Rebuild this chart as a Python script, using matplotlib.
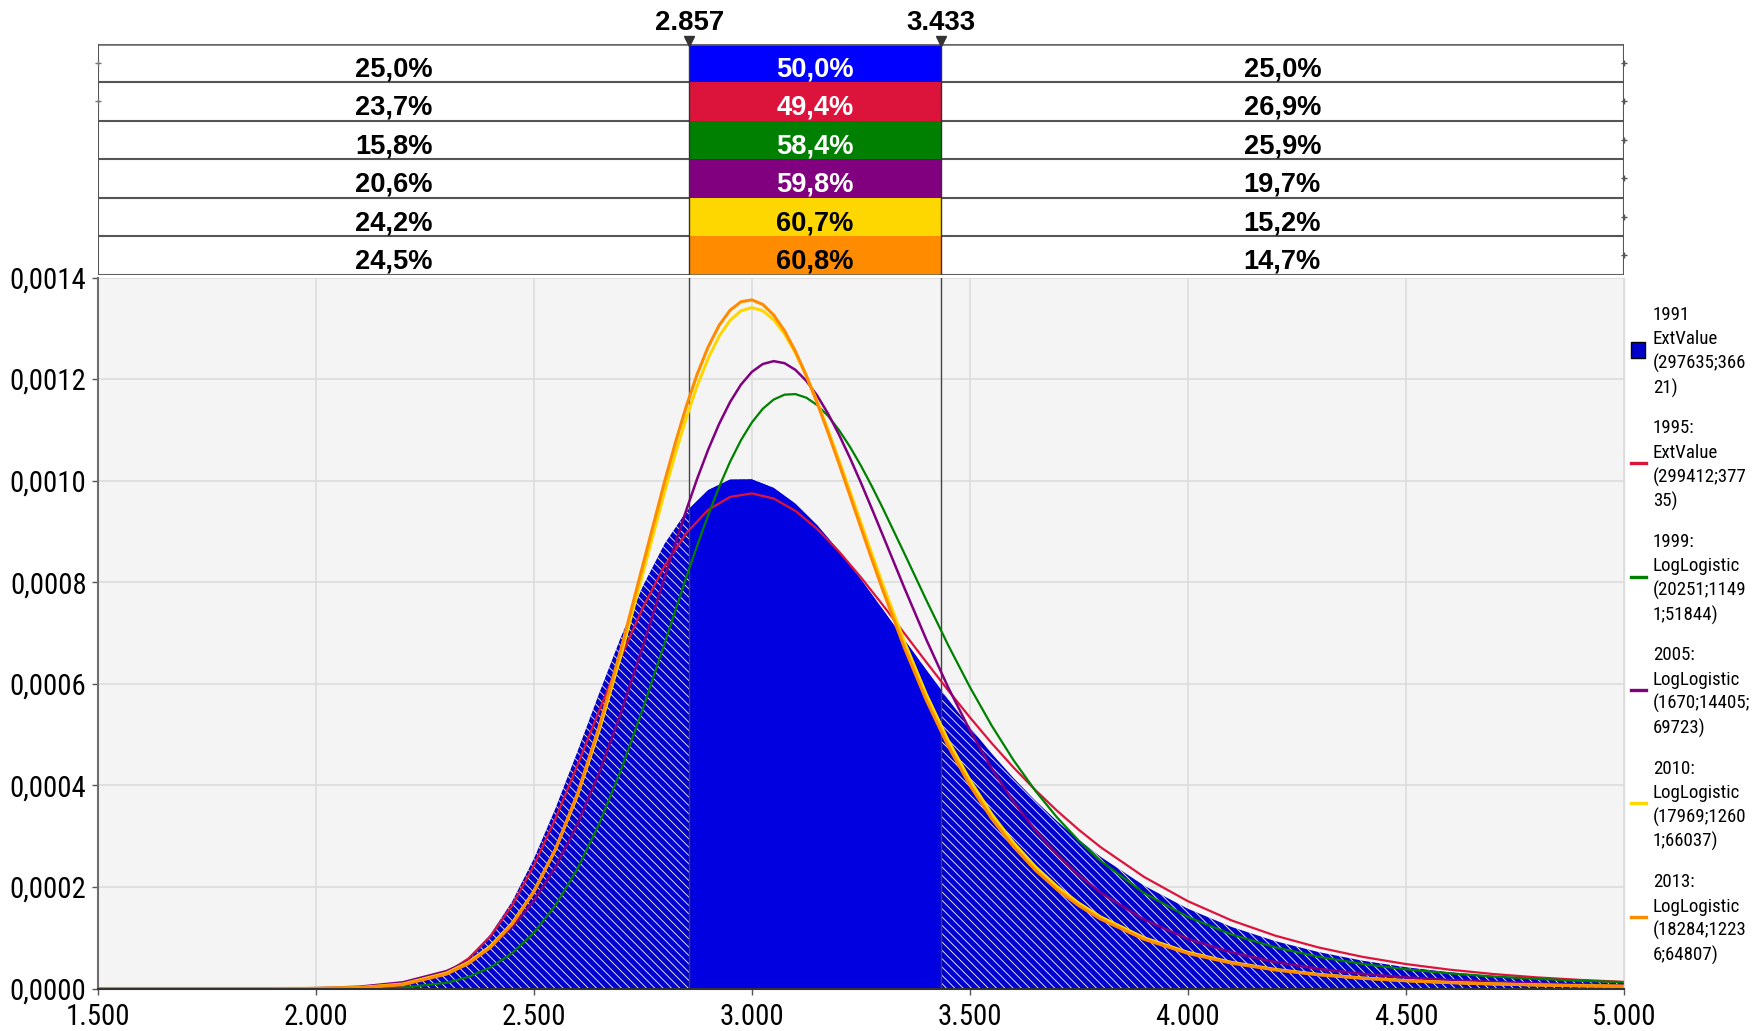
import matplotlib
matplotlib.use("Agg")
import matplotlib.pyplot as plt
from matplotlib import font_manager
from matplotlib.font_manager import FontProperties
from matplotlib.textpath import TextPath
from matplotlib.patches import Rectangle
from matplotlib.lines import Line2D

# ---------------- data ----------------
X = [1500, 1600, 1700, 1800, 1900, 2000, 2100, 2200, 2300, 2350, 2400, 2450, 2500, 2550,
     2600, 2650, 2700, 2750, 2800, 2850, 2900, 2950, 3000, 3050, 3100, 3150, 3200, 3250,
     3300, 3350, 3400, 3450, 3500, 3550, 3600, 3650, 3700, 3750, 3800, 3900, 4000, 4100,
     4200, 4300, 4400, 4500, 4600, 4700, 4800, 4900, 5000]

X_LL = [1500, 1600, 1700, 1800, 1900, 2000, 2100, 2200, 2300, 2350, 2400, 2450, 2500, 2550,
        2600, 2650, 2700, 2750, 2800, 2825, 2850, 2875, 2900, 2925, 2950, 2975, 3000, 3025,
        3050, 3075, 3100, 3125, 3150, 3175, 3200, 3225, 3250, 3275, 3300, 3350, 3400, 3450,
        3500, 3550, 3600, 3650, 3700, 3750, 3800, 3900, 4000, 4100, 4200, 4300, 4400, 4500,
        4600, 4700, 4800, 4900, 5000]

# 1991 ExtValue (filled) and 1995 ExtValue, on X
Y1991 = [0, 0, 0, 0, 0, 0.00000002, 0.00000053, 0.0000055, 0.0000306, 0.0000599, 0.0001058,
         0.0001707, 0.000255, 0.0003554, 0.0004664, 0.0005814, 0.0006924, 0.0007922, 0.0008759,
         0.0009394, 0.0009814, 0.001002, 0.0010025, 0.0009857, 0.0009545, 0.0009121, 0.0008615,
         0.0008055, 0.0007465, 0.0006865, 0.0006271, 0.0005694, 0.0005144, 0.0004627, 0.0004146,
         0.0003701, 0.0003295, 0.0002926, 0.0002592, 0.0002023, 0.000157, 0.0001212, 0.0000933,
         0.0000716, 0.0000548, 0.0000419, 0.000032, 0.0000245, 0.0000187, 0.0000142, 0.0000108]

Y1995 = [0, 0, 0, 0, 0, 0.00000003, 0.00000064, 0.000006, 0.0000309, 0.000059, 0.0001023,
         0.0001632, 0.0002417, 0.0003352, 0.0004391, 0.0005474, 0.0006529, 0.0007496, 0.0008323,
         0.0008971, 0.0009425, 0.0009679, 0.0009749, 0.0009648, 0.0009405, 0.0009047, 0.0008603,
         0.0008097, 0.0007554, 0.0006991, 0.0006427, 0.0005873, 0.0005339, 0.000483, 0.0004353,
         0.0003909, 0.0003499, 0.0003124, 0.0002782, 0.0002194, 0.0001719, 0.0001341, 0.0001041,
         0.0000807, 0.0000624, 0.0000481, 0.0000371, 0.0000285, 0.0000219, 0.0000169, 0.000013]

# LogLogistic series, on X_LL
Y1999 = [0, 0, 0, 0, 0, 0, 0.00000005, 0.0000017, 0.0000113, 0.0000228, 0.0000413,
         0.0000694, 0.0001096, 0.0001643, 0.0002356, 0.0003245, 0.0004303, 0.0005506, 0.0006798,
         0.0007455, 0.0008104, 0.0008731, 0.0009326, 0.0009877, 0.001037, 0.0010795, 0.0011145,
         0.0011414, 0.0011596, 0.0011693, 0.0011704, 0.0011633, 0.0011487, 0.0011272, 0.0010995,
         0.0010667, 0.0010297, 0.0009892, 0.0009463, 0.0008563, 0.000765, 0.0006765, 0.0005936,
         0.0005177, 0.0004497, 0.0003894, 0.0003367, 0.0002908, 0.0002511, 0.0001877, 0.0001409,
         0.0001065, 0.0000812, 0.0000624, 0.0000484, 0.0000378, 0.0000298, 0.0000237, 0.000019,
         0.0000153, 0.0000124]

Y2005 = [0, 0, 0, 0, 0, 0.0000007, 0.0000035, 0.0000123, 0.0000344, 0.0000541, 0.0000821,
         0.0001207, 0.0001724, 0.0002394, 0.0003234, 0.0004251, 0.0005431, 0.0006737, 0.00081,
         0.0008774, 0.0009428, 0.0010046, 0.0010613, 0.0011117, 0.0011546, 0.001189, 0.0012141,
         0.0012296, 0.0012353, 0.0012313, 0.0012181, 0.0011965, 0.0011673, 0.0011316, 0.0010904,
         0.0010448, 0.0009962, 0.0009452, 0.0008931, 0.0007884, 0.0006873, 0.0005933, 0.0005085,
         0.0004333, 0.0003679, 0.0003117, 0.0002637, 0.000223, 0.0001886, 0.0001354, 0.0000977,
         0.0000711, 0.0000522, 0.0000387, 0.0000289, 0.0000218, 0.0000166, 0.0000128, 0.0000099,
         0.0000077, 0.000006]

Y2010 = [0, 0, 0, 0, 0, 0.0000002, 0.0000018, 0.0000088, 0.0000304, 0.0000515, 0.0000831,
         0.0001284, 0.0001911, 0.0002743, 0.0003801, 0.0005086, 0.0006568, 0.0008171, 0.000978,
         0.001054, 0.0011245, 0.0011874, 0.0012412, 0.0012843, 0.0013155, 0.0013344, 0.0013406,
         0.0013346, 0.001317, 0.0012889, 0.0012515, 0.0012064, 0.0011551, 0.0010991, 0.00104,
         0.0009791, 0.0009176, 0.0008564, 0.0007964, 0.0006826, 0.0005796, 0.0004888, 0.0004104,
         0.0003436, 0.0002872, 0.00024, 0.0002007, 0.000168, 0.0001409, 0.0000997, 0.0000713,
         0.0000515, 0.0000376, 0.0000278, 0.0000207, 0.0000156, 0.0000119, 0.0000091, 0.0000071,
         0.0000055, 0.0000043]

Y2013 = [0, 0, 0, 0, 0, 0.0000001, 0.0000014, 0.0000077, 0.0000284, 0.0000491, 0.0000805,
         0.0001262, 0.0001898, 0.0002748, 0.0003835, 0.0005159, 0.0006686, 0.0008335, 0.0009984,
         0.0010757, 0.0011471, 0.0012103, 0.0012637, 0.0013058, 0.0013354, 0.0013522, 0.0013559,
         0.001347, 0.0013262, 0.001295, 0.0012545, 0.0012065, 0.0011526, 0.0010943, 0.0010333,
         0.0009707, 0.0009079, 0.0008457, 0.0007851, 0.0006708, 0.0005679, 0.0004778, 0.0004003,
         0.0003345, 0.0002793, 0.0002332, 0.0001948, 0.000163, 0.0001366, 0.0000967, 0.0000691,
         0.0000499, 0.0000365, 0.000027, 0.0000201, 0.0000152, 0.0000116, 0.0000089, 0.0000069,
         0.0000054, 0.0000043]

DELIMITERS = [2857, 3433]
LEFT_PCT = [25.0, 23.7, 15.8, 20.6, 24.2, 24.5]
MID_PCT = [50.0, 49.4, 58.4, 59.8, 60.7, 60.8]
RIGHT_PCT = [25.0, 26.9, 25.9, 19.7, 15.2, 14.7]

LEGEND_LABELS = [
    ["1991", "ExtValue", "(297635;366", "21)"],
    ["1995:", "ExtValue", "(299412;377", "35)"],
    ["1999:", "LogLogistic", "(20251;1149", "1;51844)"],
    ["2005:", "LogLogistic", "(1670;14405;", "69723)"],
    ["2010:", "LogLogistic", "(17969;1260", "1;66037)"],
    ["2013:", "LogLogistic", "(18284;1223", "6;64807)"],
]
Y_TICKS = [0.0, 0.0002, 0.0004, 0.0006, 0.0008, 0.0010, 0.0012, 0.0014]
X_TICKS = [1500, 2000, 2500, 3000, 3500, 4000, 4500, 5000]

# ---------------- styles ----------------
SERIES_COLORS = ["#0000FF", "#DC143C", "#008000", "#800080", "#FFD700", "#FF8C00"]
MID_TEXT_COLORS = ["white", "white", "white", "white", "black", "black"]


def pick_condensed():
    ents = font_manager.fontManager.ttflist

    def regular(f):
        return f.style == "normal" and f.weight in (400, "normal", "regular", "book", "Regular")

    prefs = [
        lambda f: f.name == "Liberation Sans Narrow",
        lambda f: "Noto Sans" in f.name and ("Condensed" in f.name or f.stretch == "condensed")
        and "Extra" not in f.name and "Semi" not in f.name and "Mono" not in f.name
        and "CJK" not in f.name,
        lambda f: "Roboto" in f.name and "Condensed" in f.name,
        lambda f: ("Narrow" in f.name or "Condensed" in f.name) and "Mono" not in f.name
        and "Serif" not in f.name,
        lambda f: f.stretch in ("condensed", "semi-condensed") and "Mono" not in f.name
        and "Serif" not in f.name,
    ]
    for p in prefs:
        for f in ents:
            try:
                if p(f) and regular(f):
                    return f.fname
            except Exception:
                pass
    return None


_cond = pick_condensed()
FP_NARROW = FontProperties(fname=_cond) if _cond else FontProperties(family="Liberation Sans")
FP_BOLD = FontProperties(family=["Liberation Sans", "DejaVu Sans"], weight="bold")


def fit_size(text, fp, w_px, h_px):
    ext = TextPath((0, 0), text, size=100, prop=fp).get_extents()
    hz = TextPath((0, 0), "0", size=100, prop=fp).get_extents().height
    return min(w_px * 72.0 / ext.width, h_px * 72.0 / hz)


def with_size(fp, s):
    p = fp.copy()
    p.set_size(s)
    return p


TICK_FP = with_size(FP_NARROW, fit_size("0,0014", FP_NARROW, 75, 21))
LEG_FP = with_size(FP_NARROW, fit_size("(18284;1223", FP_NARROW, 91, 14.5))
TAB_FP = with_size(FP_BOLD, fit_size("25,0%", FP_BOLD, 80, 19.3))
TOP_FP = with_size(FP_BOLD, fit_size("2.857", FP_BOLD, 67, 20.5))

plt.rcParams["hatch.linewidth"] = 0.6

W, H = 1758, 1031
fig = plt.figure(figsize=(W / 100, H / 100), dpi=100)


def fx(px):
    return px / W


def fy(py):
    return 1 - py / H


L, R = 97.7, 1624.0
ax = fig.add_axes([fx(L), fy(988.5), fx(R) - fx(L), fy(277.5) - fy(988.5)])
axt = fig.add_axes([fx(L), fy(274.5), fx(R) - fx(L), fy(43.5) - fy(274.5)])

# ---------------- main plot ----------------
ax.set_facecolor("#F4F4F4")
ax.set_xlim(X_TICKS[0], X_TICKS[-1])
ax.set_ylim(0, Y_TICKS[-1])
ax.set_axisbelow(True)
ax.grid(True, color="#DCDCDC", lw=1.2)

ax.fill_between(X, 0, Y1991, facecolor="#0000CC", edgecolor="white",
                hatch="\\\\\\\\", linewidth=0, zorder=1)
solid = ax.fill_between(X, 0, Y1991, facecolor="#0000E0", linewidth=0, zorder=1.1)
solid.set_clip_path(Rectangle((DELIMITERS[0], 0), DELIMITERS[1] - DELIMITERS[0], 1,
                              transform=ax.transData))

for d in DELIMITERS:
    ax.axvline(d, color="#444444", lw=1.0, zorder=1.5)

lines = [(X, Y1995), (X_LL, Y1999), (X_LL, Y2005), (X_LL, Y2010), (X_LL, Y2013)]
widths = [1.6, 1.6, 1.8, 2.2, 2.2]
for k, ((xs, ys), c, w) in enumerate(zip(lines, SERIES_COLORS[1:], widths)):
    ax.plot(xs, ys, color=c, lw=w, zorder=2 + 0.1 * k, solid_joinstyle="round")

ax.set_xticks(X_TICKS)
ax.set_xticklabels([f"{v:,}".replace(",", ".") for v in X_TICKS], fontproperties=TICK_FP)
ax.set_yticks(Y_TICKS)
ax.set_yticklabels([f"{v:.4f}".replace(".", ",") for v in Y_TICKS], fontproperties=TICK_FP)
ax.tick_params(axis="both", length=4, width=1, color="#555555", labelcolor="black")
ax.tick_params(axis="x", pad=6.5)
ax.tick_params(axis="y", pad=4)
ax.spines["top"].set_visible(False)
ax.spines["left"].set_color("#6E6E6E")
ax.spines["left"].set_linewidth(1.5)
ax.spines["bottom"].set_color("#333333")
ax.spines["bottom"].set_linewidth(1.5)
ax.spines["right"].set_color("#DDDDDD")
ax.spines["right"].set_linewidth(1.0)

# ---------------- table above ----------------
axt.set_xlim(X_TICKS[0], X_TICKS[-1])
axt.set_ylim(6, 0)
axt.axis("off")
n = len(MID_PCT)
axt.hlines(range(n + 1), X_TICKS[0], X_TICKS[-1], color="#555555", lw=1.5, zorder=1)
for i in range(n):
    axt.add_patch(Rectangle((DELIMITERS[0], i), DELIMITERS[1] - DELIMITERS[0], 1,
                            facecolor=SERIES_COLORS[i], edgecolor="none", zorder=2))
axt.hlines([0, n], X_TICKS[0], X_TICKS[-1], color="#666666", lw=1.8, zorder=3)
axt.vlines([X_TICKS[0], X_TICKS[-1]], 0, n, color="#555555", lw=1.5, zorder=3)
axt.vlines(DELIMITERS, 0, n, color="#333333", lw=1.0, zorder=3)

# small end markers on the rows
axt.plot([X_TICKS[-1]] * n, [i + 0.5 for i in range(n)], ls="none", marker="+", ms=5,
         mew=1.0, color="#555555", clip_on=False, zorder=4)
axt.plot([X_TICKS[0]] * 2, [0.5, 1.5], ls="none", marker="+", ms=5, mew=1.0,
         color="#777777", clip_on=False, zorder=4)

cx_left = (X_TICKS[0] + DELIMITERS[0]) / 2
cx_mid = (DELIMITERS[0] + DELIMITERS[1]) / 2
cx_right = (DELIMITERS[1] + X_TICKS[-1]) / 2


def pct(v):
    return f"{v:.1f}%".replace(".", ",")


for i in range(n):
    yb = i + 0.85
    kw = dict(ha="center", va="baseline", fontproperties=TAB_FP, zorder=4)
    axt.text(cx_left, yb, pct(LEFT_PCT[i]), color="black", **kw)
    axt.text(cx_mid, yb, pct(MID_PCT[i]), color=MID_TEXT_COLORS[i], **kw)
    axt.text(cx_right, yb, pct(RIGHT_PCT[i]), color="black", **kw)

for d in DELIMITERS:
    axt.text(d, -0.351, f"{d:,}".replace(",", "."), ha="center", va="baseline",
             fontproperties=TOP_FP, clip_on=False)
axt.plot(DELIMITERS, [-0.07] * 2, ls="none", marker="v", ms=7, color="#333333",
         clip_on=False, zorder=5)

# ---------------- legend ----------------
for i, lbl in enumerate(LEGEND_LABELS):
    y0 = 313 + 113.4 * i
    for k, t in enumerate(lbl):
        fig.text(fx(1653), fy(y0 + 24.5 * k + 7), t, ha="left", va="baseline",
                 fontproperties=LEG_FP, color="black")
    mc = y0 + 36.75
    if i == 0:
        fig.add_artist(Rectangle((fx(1631), fy(mc + 8)), 14 / W, 16 / H,
                                 transform=fig.transFigure, facecolor="#0000CC",
                                 edgecolor="black", lw=1))
    else:
        fig.add_artist(Line2D([fx(1631), fx(1646)], [fy(mc), fy(mc)],
                              transform=fig.transFigure, color=SERIES_COLORS[i], lw=2.4))

fig.savefig("out.png", dpi=100)
